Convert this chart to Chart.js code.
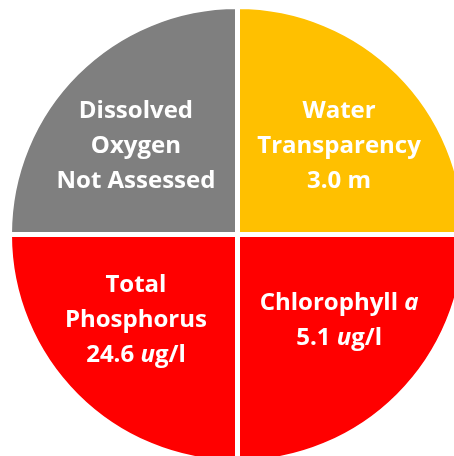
<!DOCTYPE html>
<html>
<head>
<meta charset="utf-8">
<script src="https://cdn.jsdelivr.net/npm/chart.js@4.4.0/dist/chart.umd.min.js"></script>
<style>
  html, body { margin: 0; padding: 0; background: #fff; overflow: hidden; }
  #wrap { position: absolute; left: 0; top: 0; width: 475px; height: 469px; }
</style>
</head>
<body>
<div id="wrap"><canvas id="pie" width="475" height="469"></canvas></div>
<script>
// slices go clockwise from 12 o'clock
var parameters = ['Water Transparency', 'Chlorophyll a', 'Total Phosphorus', 'Dissolved Oxygen'];
var readings = ['3.0 m', '5.1 ug/l', '24.6 ug/l', 'Not Assessed'];
var shares = [1, 1, 1, 1];
// text shown in each slice, _x_ = italic
var sliceText = [
    ['Water', 'Transparency', '3.0 m'],
    ['Chlorophyll _a_', '5.1 _u_g/l'],
    ['Total', 'Phosphorus', '24.6 _u_g/l'],
    ['Dissolved', 'Oxygen', 'Not Assessed']
];
var sliceColors = ['#FFC000', '#FF0000', '#FF0000', '#7F7F7F'];

var FONT = '"Open Sans", sans-serif';
var SIZE = 24;

// draws the multi line labels inside the slices
var sliceLabels = {
    id: 'sliceLabels',
    afterDatasetsDraw: function (chart) {
        var ctx = chart.ctx;
        var meta = chart.getDatasetMeta(0);
        ctx.save();
        ctx.fillStyle = '#ffffff';
        ctx.textBaseline = 'alphabetic';
        meta.data.forEach(function (arc, i) {
            var p = arc.getProps(['x', 'y', 'startAngle', 'endAngle', 'outerRadius'], true);
            var mid = (p.startAngle + p.endAngle) / 2;
            var cx = p.x + Math.cos(mid) * p.outerRadius * 0.63;
            var cy = p.y + Math.sin(mid) * p.outerRadius * 0.54 - 3;
            var lines = sliceText[i];
            var lh = 35;
            lines.forEach(function (line, j) {
                var parts = line.split('_');
                var w = 0;
                parts.forEach(function (s, k) {
                    ctx.font = (k % 2 ? 'italic ' : '') + 'bold ' + SIZE + 'px ' + FONT;
                    w += ctx.measureText(s).width;
                });
                var x = cx - w / 2;
                var y = cy + (j - (lines.length - 1) / 2) * lh + 8.5;
                parts.forEach(function (s, k) {
                    ctx.font = (k % 2 ? 'italic ' : '') + 'bold ' + SIZE + 'px ' + FONT;
                    ctx.textAlign = 'left';
                    ctx.fillText(s, x, y);
                    x += ctx.measureText(s).width;
                });
            });
        });
        ctx.restore();
    }
};

new Chart(document.getElementById('pie'), {
    type: 'pie',
    data: {
        labels: parameters.map(function (p, i) { return p + ' ' + readings[i]; }),
        datasets: [{
            data: shares,
            backgroundColor: sliceColors,
            borderColor: '#ffffff',
            borderWidth: 5,
            hoverOffset: 0
        }]
    },
    options: {
        responsive: false,
        animation: false,
        layout: { padding: 4 },
        plugins: {
            legend: { display: false },
            tooltip: { enabled: false }
        }
    },
    plugins: [sliceLabels]
});
</script>
</body>
</html>
